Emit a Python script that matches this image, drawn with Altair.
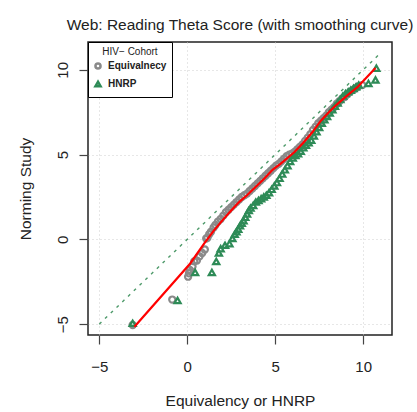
import altair as alt
import pandas as pd

# Equivalency (gray circles)
eq_x = [-3.1, -0.85, 0.05, 0.1, 0.15, 0.3, 0.4, 0.55, 0.7, 0.85, 1.0, 1.08, 1.15, 1.25, 1.35,
        1.5, 1.6, 1.75, 1.9, 2.05, 2.2, 2.35, 2.5, 2.65, 2.8, 2.95, 3.1, 3.25, 3.4, 3.55,
        3.7, 3.85, 4.0, 4.15, 4.3, 4.45, 4.6, 4.75, 4.9, 5.05, 5.2, 5.35, 5.5, 5.65, 5.8,
        5.95, 6.1, 6.25, 6.4, 6.55, 6.7, 6.85, 7.0, 7.15, 7.3, 7.45, 7.6, 7.75, 7.9, 8.05,
        8.2, 8.35, 8.5, 8.65, 8.8, 8.95, 9.1, 9.25, 9.4, 9.55, 9.7, 9.95]
eq_y = [-5.05, -3.55, -2.2, -2.0, -1.8, -1.6, -1.3, -1.25, -1.0, -0.8, -0.6, 0.05, 0.1, 0.3, 0.45,
        0.7, 0.85, 1.05, 1.2, 1.4, 1.6, 1.75, 1.9, 2.05, 2.2, 2.35, 2.5, 2.6, 2.7, 2.85,
        3.0, 3.15, 3.3, 3.45, 3.6, 3.75, 3.9, 4.05, 4.2, 4.35, 4.45, 4.6, 4.75, 4.9, 5.0,
        5.05, 5.15, 5.3, 5.45, 5.6, 5.8, 6.0, 6.2, 6.45, 6.65, 6.85, 7.0, 7.15, 7.3, 7.5,
        7.65, 7.8, 8.0, 8.15, 8.3, 8.4, 8.55, 8.7, 8.8, 8.9, 9.0, 9.1]

# HNRP (green triangles)
hn_x = [-3.1, -0.55, 0.45, 1.4, 1.65, 1.8, 1.9, 2.15, 2.4, 2.57, 2.7, 2.8, 2.9, 3.0, 3.1,
        3.2, 3.3, 3.4, 3.5, 3.6, 3.75, 3.9, 4.05, 4.2, 4.35, 4.5, 4.65, 4.8, 4.95, 5.1,
        5.25, 5.4, 5.55, 5.7, 5.85, 6.0, 6.15, 6.3, 6.45, 6.6, 6.75, 6.9, 7.05, 7.2, 7.35,
        7.5, 7.65, 7.8, 7.95, 8.1, 8.25, 8.4, 8.55, 8.7, 8.85, 9.0, 9.15, 9.3, 9.45, 9.6,
        9.75, 10.3, 10.7, 10.75]
hn_y = [-4.95, -3.6, -1.95, -1.95, -1.3, -0.8, -0.55, -0.35, -0.25, 0.05, 0.3, 0.45, 0.6, 0.8, 0.95,
        1.1, 1.3, 1.5, 1.7, 1.85, 2.0, 2.2, 2.3, 2.4, 2.5, 2.6, 2.75, 2.95, 3.15, 3.35,
        3.6, 3.85, 4.1, 4.35, 4.6, 4.8, 4.95, 5.05, 5.2, 5.4, 5.55, 5.7, 5.85, 6.1, 6.35,
        6.6, 6.85, 7.05, 7.25, 7.45, 7.65, 7.85, 8.05, 8.25, 8.45, 8.6, 8.7, 8.8, 8.9, 9.0,
        9.1, 9.2, 9.4, 10.1]

# smoothing curve (red)
sm_x = [-3.0, 0.17, 0.97, 1.5, 2.0, 2.5, 2.95, 3.4, 3.9, 4.4, 4.85, 5.3, 5.7, 6.1, 6.6,
        7.1, 7.6, 8.05, 8.5, 9.0, 9.7, 10.7]
sm_y = [-5.15, -1.42, -0.24, 0.5, 1.12, 1.7, 2.2, 2.6, 3.1, 3.6, 4.1, 4.45, 4.8, 5.15, 5.7,
        6.3, 7.0, 7.5, 7.95, 8.4, 9.0, 10.1]

# identity line
id_x = [-5, 11]
id_y = [-5, 11]

groups = ["Equivalnecy", "HNRP"]

pts = pd.DataFrame({
    "x": eq_x + hn_x,
    "y": eq_y + hn_y,
    "grp": [groups[0]] * len(eq_x) + [groups[1]] * len(hn_x),
    "ord": list(range(len(eq_x) + len(hn_x))),
})
smooth = pd.DataFrame({"x": sm_x, "y": sm_y})
ident = pd.DataFrame({"x": id_x, "y": id_y})

xs = alt.Scale(domain=[-5.64, 11.64], nice=False, zero=False)
ys = alt.Scale(domain=[-5.64, 11.64], nice=False, zero=False)

xaxis = alt.Axis(values=[-5, 0, 5, 10], title="Equivalency or HNRP", domain=False,
                 tickSize=9, tickColor="#444444", tickWidth=1.2,
                 labelFontSize=15, labelPadding=15, labelColor="#222222",
                 labelExpr="replace(datum.label, '-', '\u2013')",
                 titleFontSize=15.5, titleFontWeight="normal", titleColor="#222222",
                 titleY=70, titleBaseline="alphabetic",
                 grid=True, gridDash=[1, 3], gridColor="#cfcfcf", gridWidth=1)
yaxis = alt.Axis(values=[-5, 0, 5, 10], title="Norming Study", domain=False,
                 tickSize=9, tickColor="#444444", tickWidth=1.2,
                 labelFontSize=15, labelAngle=270, labelAlign="center", labelBaseline="middle",
                 labelPadding=17, labelColor="#222222",
                 labelExpr="replace(datum.label, '-', '\u2013')",
                 titleFontSize=15.5, titleFontWeight="normal", titleColor="#222222",
                 titleX=-63, titleAngle=270, titleBaseline="middle",
                 grid=True, gridDash=[1, 3], gridColor="#cfcfcf", gridWidth=1)

diag = alt.Chart(ident).mark_line(color="#4e9a6a", strokeDash=[3, 5], strokeWidth=1.4).encode(
    x=alt.X("x:Q", scale=xs, axis=xaxis),
    y=alt.Y("y:Q", scale=ys, axis=yaxis),
)

points = alt.Chart(pts).mark_point(filled=False, strokeWidth=2.2, size=38, opacity=1).encode(
    x=alt.X("x:Q", scale=xs),
    y=alt.Y("y:Q", scale=ys),
    color=alt.Color("grp:N", scale=alt.Scale(domain=groups, range=["#8a8a8a", "#2e8b57"]),
                    legend=alt.Legend(title="HIV\u2212 Cohort", orient="top-left", offset=0,
                                      fillColor="white", strokeColor="black", padding=5,
                                      titleFontSize=10, titleFontWeight="normal",
                                      titleAnchor="middle", titlePadding=4,
                                      labelFontSize=10, labelFontWeight="bold",
                                      labelColor="#222222", titleColor="#222222",
                                      symbolStrokeWidth=2.5, symbolSize=26, rowPadding=2,
                                      labelOffset=5)),
    shape=alt.Shape("grp:N", scale=alt.Scale(domain=groups, range=["circle", "triangle-up"])),
    order=alt.Order("ord:Q"),
)

red = alt.Chart(smooth).mark_line(color="#ff0000", strokeWidth=2.2).encode(
    x=alt.X("x:Q", scale=xs),
    y=alt.Y("y:Q", scale=ys),
)

chart = alt.layer(diag, points, red).properties(
    width=304, height=293,
    title=alt.TitleParams("Web: Reading Theta Score (with smoothing curve)", fontSize=15.5,
                          fontWeight="normal", anchor="middle", offset=8, color="#222222"),
    autosize=alt.AutoSizeParams(type="none"),
    padding={"left": 88, "top": 42, "right": 25, "bottom": 77},
).configure(font="Liberation Sans", background="white").configure_view(
    stroke="#222222", strokeWidth=1.5
)

chart.save("out.html", embed_options={"renderer": "svg", "actions": False})
